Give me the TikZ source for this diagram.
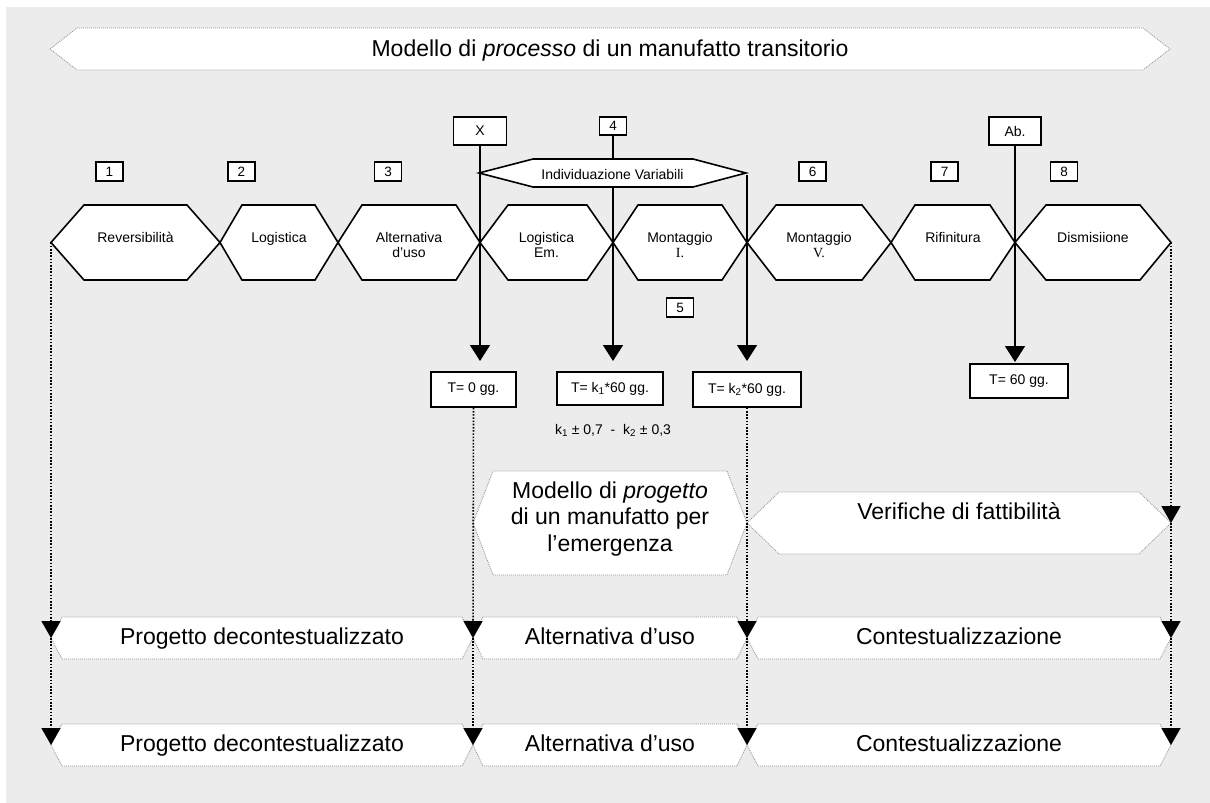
\documentclass[tikz,border=0pt]{standalone}
\usepackage{fontspec}
\setmainfont{Liberation Sans}
\newfontfamily\serifnt{Liberation Serif}
\usetikzlibrary{arrows.meta}
\definecolor{bgc}{RGB}{236,236,236}
\definecolor{bord}{RGB}{150,150,150}
\newcommand\smallfnt{\fontsize{14}{15}\selectfont}
\newcommand\bigfnt{\fontsize{23}{26.5}\selectfont}
\newcommand\numfnt{\fontsize{13.5}{15}\selectfont}
\tikzset{
 hexline/.style={draw=black, fill=white, line width=1.6pt, line join=miter},
 hextext/.style={anchor=base, align=center, font=\smallfnt, inner sep=0pt},
 banner/.style={draw=bord, fill=white, line width=0.8pt, dash pattern=on 1pt off 1pt},
 bigtext/.style={anchor=base, align=center, font=\bigfnt, inner sep=0pt},
 nbox/.style={draw=black, fill=white, line width=1.4pt, minimum width=27pt, minimum height=19pt, inner sep=0pt, font=\numfnt},
 tbox/.style={draw=black, fill=white, line width=1.4pt, minimum height=35pt, inner sep=0pt, font=\smallfnt},
 conn/.style={line width=1.6pt, -{Triangle[width=20pt,length=16pt]}},
 dotconn/.style={line width=1.6pt, dash pattern=on 1.6pt off 1.6pt, -{Triangle[width=19pt,length=17pt]}},
}
% #1 name, #2 xl, #3 xr, #4 il, #5 ir, #6 baseline of last line, #7 text
\newcommand\hexcell[7]{%
 \draw[hexline] (#2,242.5) -- ({#2+#4},205) -- ({#3-#5},205) -- (#3,242.5) -- ({#3-#5},280) -- ({#2+#4},280) -- cycle;
 \node[hextext] (#1) at ({(#2+#3)/2},#6) {#7};
}
\newcommand\rowbanners[1]{%
 \begin{scope}[yshift=-#1pt]
 \draw[banner] (51,638) -- (62,617) -- (462,617) -- (473,638) -- (462,659) -- (62,659) -- cycle;
 \draw[banner] (473,638) -- (483,617) -- (737,617) -- (747,638) -- (737,659) -- (483,659) -- cycle;
 \draw[banner] (747,638) -- (758,617) -- (1160,617) -- (1171,638) -- (1160,659) -- (758,659) -- cycle;
 \end{scope}
}
\begin{document}
\begin{tikzpicture}[x=1pt,y=-1pt]
\useasboundingbox (0,0) rectangle (1210,803);
\fill[bgc] (6,7) rectangle (1210,803);

% title banner
\draw[banner] (50,49) -- (77,28) -- (1143,28) -- (1170,49) -- (1143,70) -- (77,70) -- cycle;
\node[bigtext] (title) at (610,56) {Modello di \textit{processo} di un manufatto transitorio};

% hexagon row
\hexcell{h1}{51}{220}{33}{33}{242}{Reversibilità}
\hexcell{h2}{220}{338}{22}{23}{242}{Logistica}
\hexcell{h3}{338}{480}{24}{24}{257}{Alternativa\\d'uso}
\hexcell{h4}{480}{613}{28}{26}{257}{Logistica\\Em.}
\hexcell{h5}{613}{747}{25}{25}{257}{Montaggio\\{\serifnt I.}}
\hexcell{h6}{747}{891}{29}{29}{257}{Montaggio\\{\serifnt V.}}
\hexcell{h7}{891}{1015}{24}{25}{242}{Rifinitura}
\hexcell{h8}{1015}{1171}{31}{31}{242}{Dismisiione}

% number boxes
\node[nbox] (n1) at (109.5,171.5) {1};
\node[nbox] (n2) at (241.5,171.5) {2};
\node[nbox] (n3) at (388,171.5) {3};
\node[nbox, minimum height=18pt] (n4) at (613,126) {4};
\node[nbox] (n5) at (680,307.5) {5};
\node[nbox] (n6) at (812.5,171.5) {6};
\node[nbox] (n7) at (944.5,171.5) {7};
\node[nbox] (n8) at (1064,171.5) {8};
\node[nbox, minimum width=53pt, minimum height=28pt, font=\smallfnt] (nX) at (480,131) {X};
\node[nbox, minimum width=52pt, minimum height=28pt, font=\smallfnt] (nAb) at (1015,131) {Ab.};

% coordinates
\coordinate (aX) at (480,361);
\coordinate (a4) at (613,361);
\coordinate (a5) at (747,361);
\coordinate (aAb) at (1015,362);
\coordinate (ivE) at (747,175);

% solid connectors
\draw[conn] (nX.south) -- (aX);
\draw[conn] (n4.south) -- (a4);
\draw[conn] (ivE) -- (a5);
\draw[conn] (nAb.south) -- (aAb);

% Individuazione Variabili
\draw[hexline] (479,173) -- (533,159) -- (693,159) -- (746,173) -- (693,187) -- (533,187) -- cycle;
\node[hextext] (iv) at (612.5,179) {Individuazione Variabili};

% time boxes
\node[tbox, minimum width=85pt] (T0) at (473.5,389.5) {T= 0 gg.};
\node[tbox, minimum width=106pt, minimum height=33pt] (T1) at (610,388.5) {T= k\textsubscript{1}*60 gg.};
\node[tbox, minimum width=108pt] (T2) at (747,389.5) {T= k\textsubscript{2}*60 gg.};
\node[tbox, minimum width=98pt, minimum height=34pt] (T3) at (1019,381) {T= 60 gg.};
\node[anchor=base, font=\smallfnt, inner sep=0pt] (kk) at (613,434) {k\textsubscript{1} ± 0,7\ \ -\ \ k\textsubscript{2} ± 0,3};

% middle banners
\draw[banner] (473,523) -- (493,471) -- (727,471) -- (747,523) -- (727,575) -- (493,575) -- cycle;
\node[bigtext] (mp) at (610,551) {Modello di \textit{progetto}\\di un manufatto per\\l'emergenza};
\draw[banner] (747,523) -- (779,492) -- (1139,492) -- (1171,523) -- (1139,554) -- (779,554) -- cycle;
\node[bigtext] (vf) at (959,519) {Verifiche di fattibilità};

% bottom rows
\rowbanners{0}
\rowbanners{107}
\node[bigtext] (p1) at (262,644) {Progetto decontestualizzato};
\node[bigtext] (a1) at (610,644) {Alternativa d'uso};
\node[bigtext] (c1) at (959,644) {Contestualizzazione};
\node[bigtext] (p2) at (262,751) {Progetto decontestualizzato};
\node[bigtext] (a2) at (610,751) {Alternativa d'uso};
\node[bigtext] (c2) at (959,751) {Contestualizzazione};

% dotted connectors
\coordinate (h1W) at (51,242.5);
\coordinate (h8E) at (1171,242.5);
\coordinate (vfE) at (1171,523);
\coordinate (r1a) at (51,638);
\coordinate (r1b) at (473,638);
\coordinate (r1c) at (747,638);
\coordinate (r1d) at (1171,638);
\coordinate (r2a) at (51,745);
\coordinate (r2b) at (473,745);
\coordinate (r2c) at (747,745);
\coordinate (r2d) at (1171,745);

\draw[dotconn] (h1W) -- (r1a);
\draw[dotconn] (r1a) -- (r2a);
\draw[dotconn] (T0.south) -- (r1b);
\draw[dotconn] (r1b) -- (r2b);
\draw[dotconn] (T2.south) -- (r1c);
\draw[dotconn] (r1c) -- (r2c);
\draw[dotconn] (h8E) -- (vfE);
\draw[dotconn] (vfE) -- (r1d);
\draw[dotconn] (r1d) -- (r2d);
\end{tikzpicture}
\end{document}
